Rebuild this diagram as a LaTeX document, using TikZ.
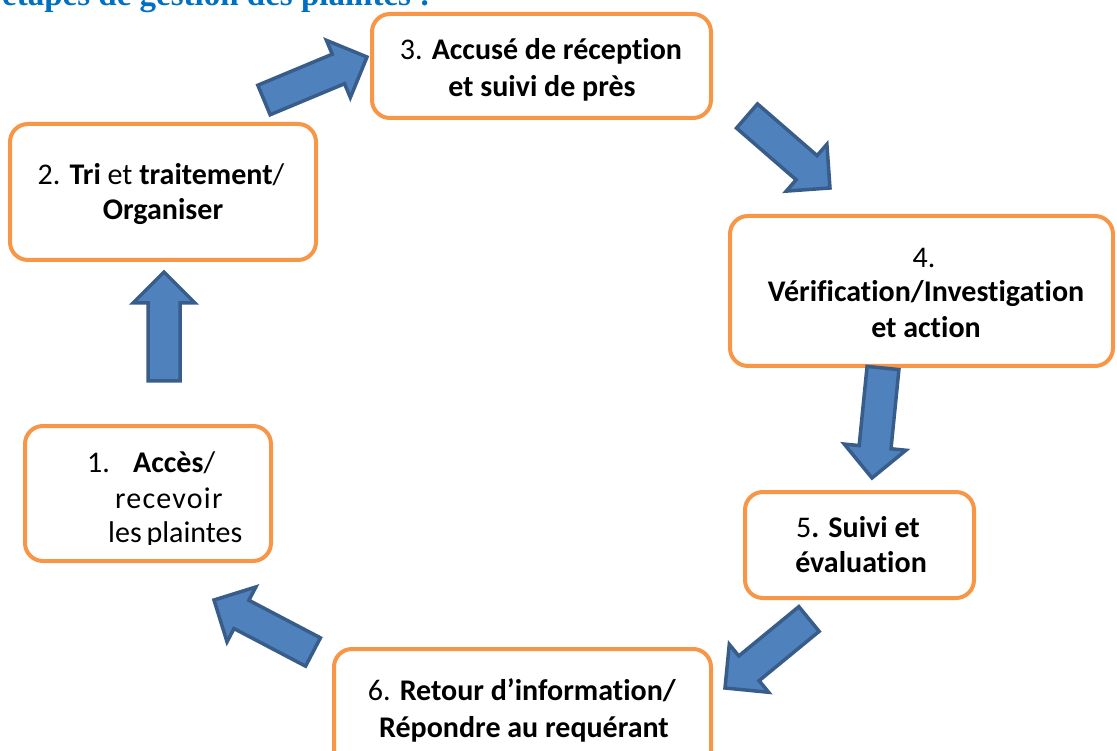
\documentclass[tikz,border=0pt]{standalone}
\usepackage{fontspec}
\setmainfont{Carlito}[Ligatures=NoCommon]
\newfontfamily\titlefont{Liberation Serif}
\usetikzlibrary{calc}
\definecolor{boxorange}{RGB}{247,150,70}
\definecolor{arrfill}{RGB}{79,129,189}
\definecolor{arrline}{RGB}{56,93,138}
\definecolor{titleblue}{RGB}{0,112,192}
\tikzset{
  stepbox/.style={draw=boxorange,line width=4pt,rounded corners=18pt,fill=white},
  ltext/.style={inner sep=0pt,anchor=base,font=\fontsize{30}{36}\selectfont},
  barrow/.style={fill=arrfill,draw=arrline,line width=3.5pt,line join=miter}
}
\newcommand\blockarrow[2]{%
  \coordinate (neck) at ($(#2)!31pt!(#1)$);
  \filldraw[barrow] ($(#1)!16pt!90:(#2)$) -- ($(neck)!16pt!-90:(#1)$) -- ($(neck)!31pt!-90:(#1)$) -- (#2)
    -- ($(neck)!31pt!90:(#1)$) -- ($(neck)!16pt!90:(#1)$) -- ($(#1)!16pt!-90:(#2)$) -- cycle;}
\begin{document}
\begin{tikzpicture}[x=1pt,y=-1pt]
\useasboundingbox (0,0) rectangle (1117,751);
\clip (0,0) rectangle (1117,751);
% title (cut off at top)
\node[inner sep=0pt,anchor=base west,text=titleblue,font=\titlefont\bfseries\fontsize{33}{38}\selectfont] (title) at (2,6) {étapes de gestion des plaintes :};
% boxes
\draw[stepbox] (25,426) rectangle (271,561);
\draw[stepbox] (10,124) rectangle (316,260);
\draw[stepbox] (372,14) rectangle (711,118);
\draw[stepbox] (730,216) rectangle (1113,366);
\draw[stepbox] (745,492) rectangle (974,598);
\draw[stepbox] (334,649) rectangle (711,770);
% box 1 text (clipped)
\begin{scope}
\clip (0,400) rectangle (300,544);
\node[ltext,anchor=base west] (t1a) at (87,472) {\makebox[46pt][l]{1.}\textbf{Accès}/};
\node[ltext,anchor=base west] (t1b) at (115,508) {\addfontfeature{LetterSpace=4}recevoir};
\node[ltext,anchor=base west] (t1c) at (108,542) {les\hspace{-2pt} plaintes};
\end{scope}
% box 2
\node[ltext] (t2a) at (161,185) {2. \textbf{Tri} et \textbf{traitement}/};
\node[ltext] (t2b) at (163,220) {\textbf{Organiser}};
% box 3
\node[ltext] (t3a) at (541,60) {3. \textbf{Accusé de réception}};
\node[ltext] (t3b) at (542,97) {\textbf{et suivi de près}};
% box 4
\node[ltext] (t4a) at (924,268) {4.};
\node[ltext] (t4b) at (926,302) {\textbf{Vérification/Investigation}};
\node[ltext] (t4c) at (926,338) {\textbf{et action}};
% box 5
\node[ltext] (t5a) at (858,537) {5\textbf{. Suivi et}};
\node[ltext] (t5b) at (861,572) {\textbf{évaluation}};
% box 6
\node[ltext] (t6a) at (522,700) {6. \textbf{Retour d’information/}};
\node[ltext] (t6b) at (524,737) {\textbf{Répondre au requérant}};
% arrows
\coordinate (tailA) at (164,381); \coordinate (tipA) at (164,272);
\coordinate (tailB) at (264,100); \coordinate (tipB) at (367,57);
\coordinate (tailC) at (747,116); \coordinate (tipC) at (830,188);
\coordinate (tailD) at (883,368); \coordinate (tipD) at (872,478);
\coordinate (tailE) at (809,619); \coordinate (tipE) at (725,688);
\coordinate (tailF) at (313,652); \coordinate (tipF) at (214,600);
\blockarrow{tailA}{tipA}
\blockarrow{tailB}{tipB}
\blockarrow{tailC}{tipC}
\blockarrow{tailD}{tipD}
\blockarrow{tailE}{tipE}
\blockarrow{tailF}{tipF}
\end{tikzpicture}
\end{document}
